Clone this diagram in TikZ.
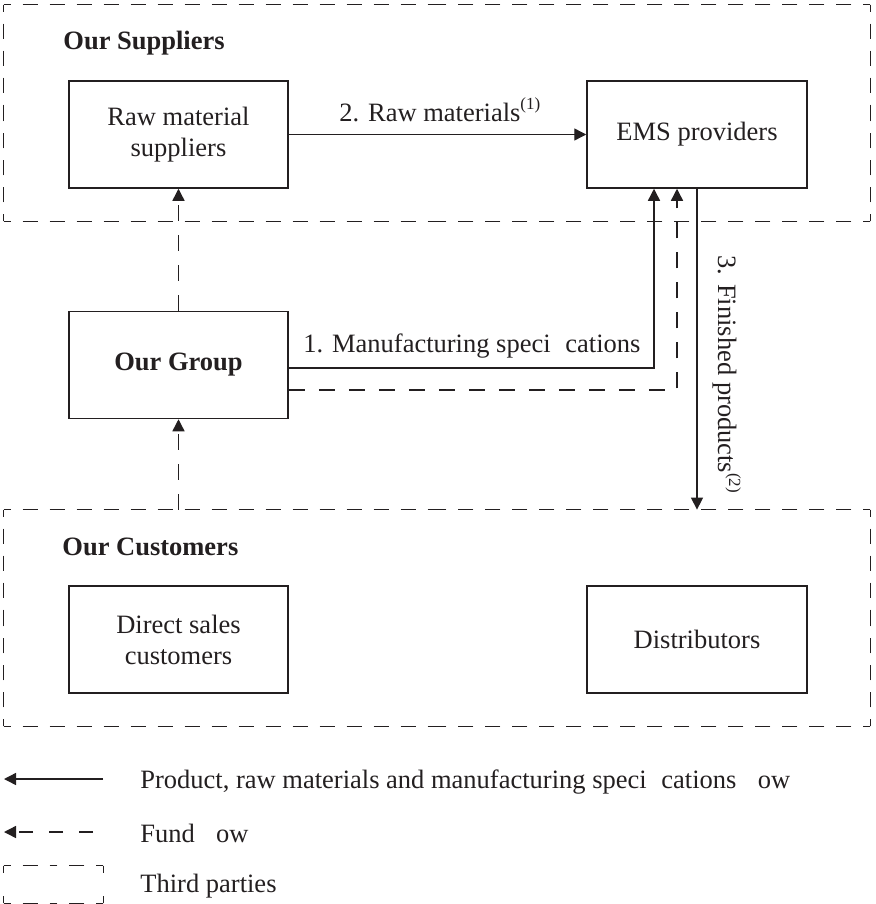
\documentclass[tikz,border=0pt]{standalone}
\usepackage{fontspec}
\setmainfont{Liberation Serif}
\usetikzlibrary{arrows.meta,calc}
\definecolor{ink}{HTML}{231F20}
\newcommand\tpbox[1]{%
  \draw[tpline] (#1.north west) -- (#1.north); \draw[tpline] (#1.north east) -- (#1.north);
  \draw[tpline] (#1.south west) -- (#1.south); \draw[tpline] (#1.south east) -- (#1.south);
  \draw[tpline] (#1.north west) -- (#1.west);  \draw[tpline] (#1.south west) -- (#1.west);
  \draw[tpline] (#1.north east) -- (#1.east);  \draw[tpline] (#1.south east) -- (#1.east);}
\newcommand\supnote[1]{\raisebox{0.42em}{\fontsize{8.5}{9}\selectfont(#1)}}
\begin{document}
\begin{tikzpicture}[x=0.5pt,y=-0.5pt,
  every node/.style={text=ink,font=\fontsize{13.25}{15.5}\selectfont},
  entity/.style={draw=ink,line width=0.75pt,minimum width=109.5pt,minimum height=53.5pt,align=center,inner sep=0pt},
  party/.style={draw=none,minimum width=433pt,minimum height=108pt,inner sep=0pt},
  tpline/.style={draw=ink,line width=0.7pt,dash pattern=on 7.5pt off 6pt,dash phase=4pt},
  flow/.style={draw=ink,line width=0.7pt,-{Triangle[length=6pt,width=6pt]}},
  fund/.style={flow,dash pattern=on 8pt off 7pt},
  lbl/.style={anchor=base west,inner sep=0pt},
  head/.style={lbl,font=\fontsize{13.25}{15.5}\selectfont\bfseries}
]
\useasboundingbox (0,0) rectangle (875,904);
% third-party regions
\node[party] (sup) at (437,113) {};
\node[party] (cus) at (437,618) {};
\node[party,minimum width=49.5pt,minimum height=18.5pt] (lgbox) at (53.5,884.5) {};
\tpbox{sup}
\tpbox{cus}
\tpbox{lgbox}
\node[head] (supt) at (63,50) {Our Suppliers};
\node[head] (cust) at (62,555) {Our Customers};
% entities
\node[entity] (raw) at (178.5,134.5) {Raw material\\suppliers};
\node[entity,minimum width=110pt] (ems) at (697,134.5) {EMS providers};
\node[entity,font=\fontsize{13.25}{15.5}\selectfont\bfseries] (grp) at (178.5,365) {Our Group};
\node[entity] (dir) at (178.5,639.5) {Direct sales\\customers};
\node[entity,minimum width=110pt] (dis) at (697,639.5) {Distributors};
% flows
\draw[flow] (raw.east) -- (ems.west);
\node[lbl] (l2) at (339,121) {2. Raw materials\supnote{1}};
\draw[flow] ($(grp.east)+(0,3)$) -| ($(ems.south)+(-43,0)$);
\node[lbl] (l1) at (303,352) {1. Manufacturing speci\hspace{0.556em}cations};
\draw[fund] ($(grp.east)+(0,25)$) -| ($(ems.south)+(-20,0)$);
\draw[flow] (ems.south) -- (ems.south |- cus.north);
\node[lbl,rotate=-90] (l3) at (718,255) {3. Finished products\supnote{2}};
\draw[fund] (grp.north) -- (raw.south);
\draw[fund] (grp.south |- cus.north) -- (grp.south);
% legend
\coordinate (a1s) at (103,779);
\coordinate (a1e) at (4,779);
\draw[flow] (a1s) -- (a1e);
\node[lbl] (t1) at (140,788) {Product, raw materials and manufacturing speci\hspace{0.556em}cations\hspace{0.806em}ow};
\coordinate (a2s) at (93,832);
\coordinate (a2e) at (4,832);
\draw[fund,dash pattern=on 7pt off 8pt] (a2s) -- (a2e);
\node[lbl] (t2) at (140,842) {Fund\hspace{0.806em}ow};
\node[lbl] (t3) at (140,892) {Third parties};
\end{tikzpicture}
\end{document}
